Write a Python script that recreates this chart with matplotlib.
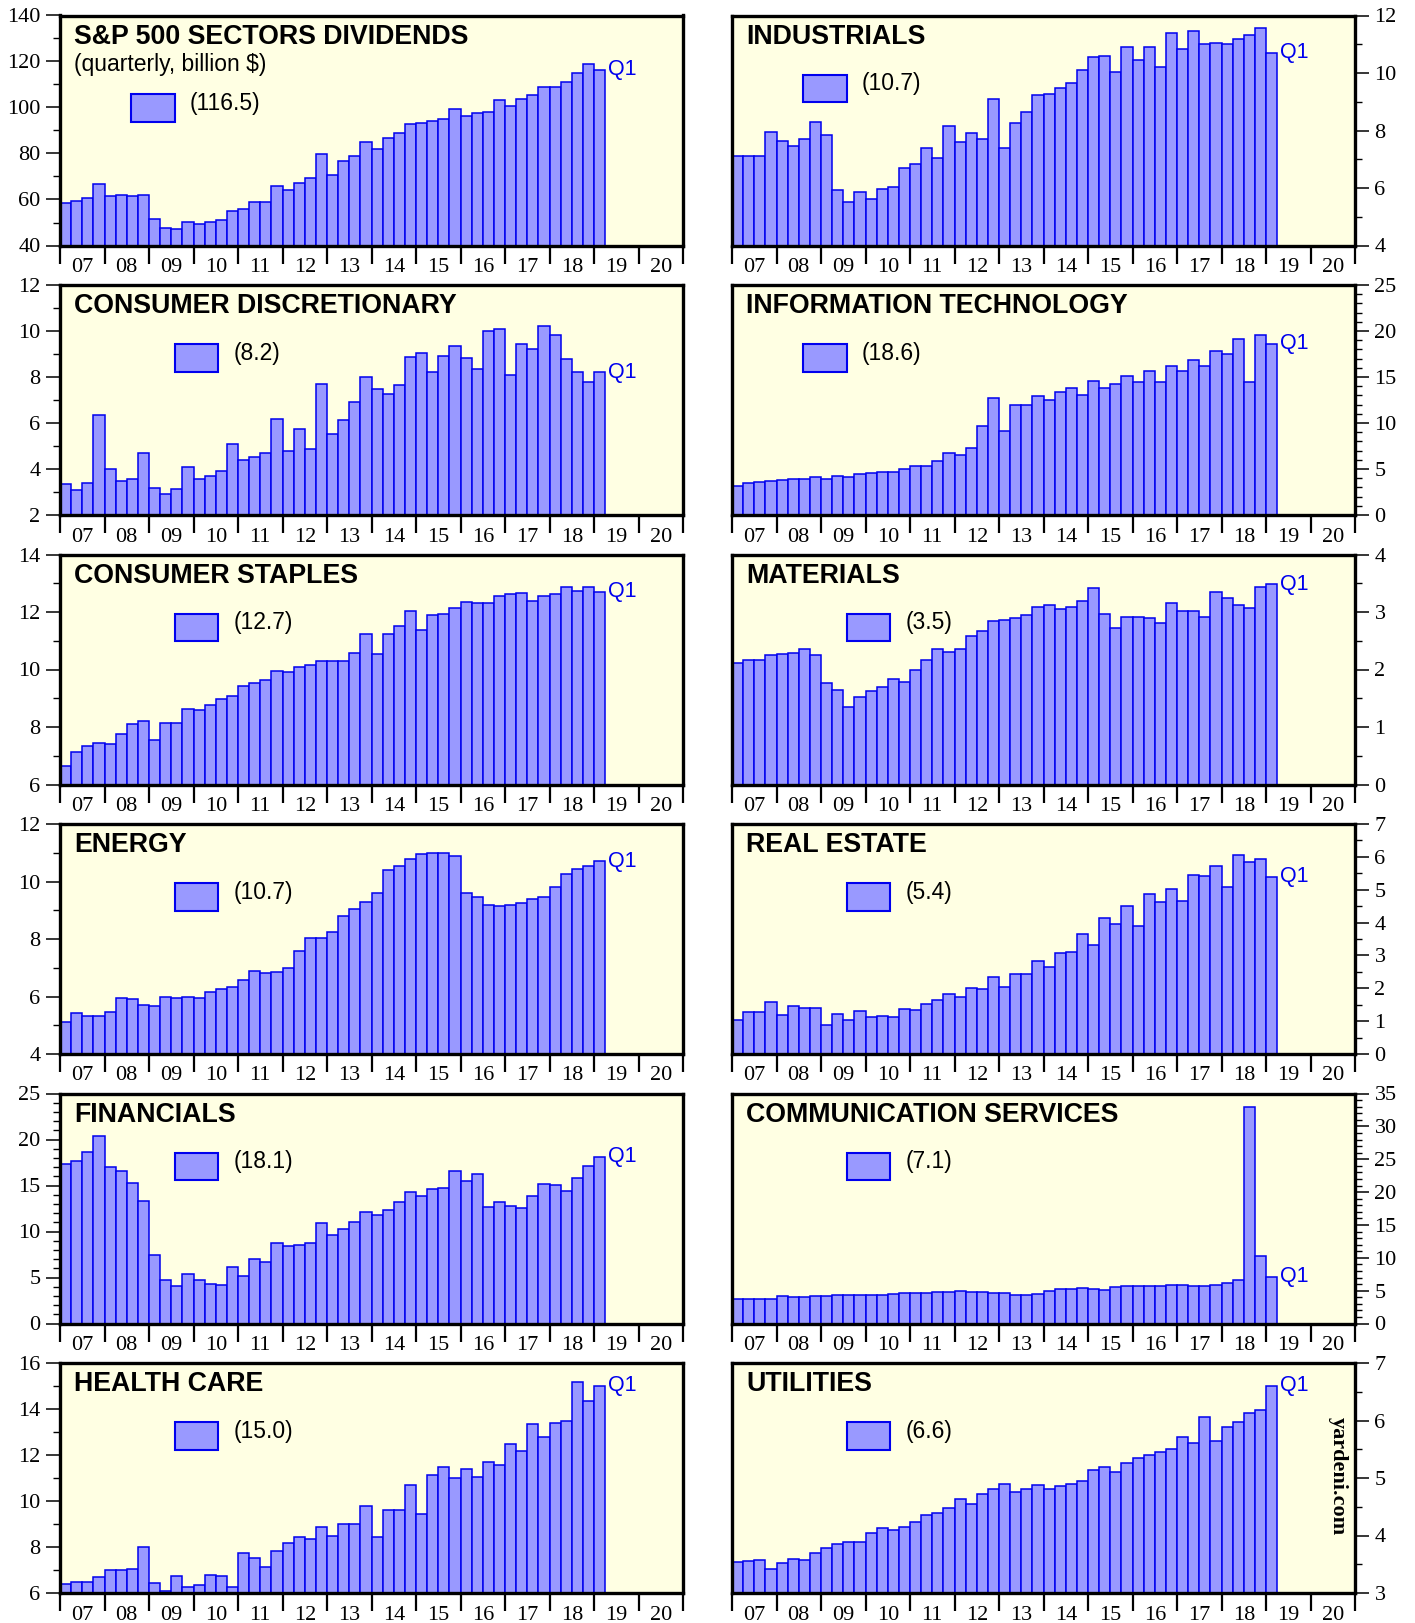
import numpy as np
import pandas as pd
import matplotlib
matplotlib.use('Agg')
import matplotlib.pyplot as plt
from matplotlib.patches import Rectangle
from matplotlib.ticker import MultipleLocator, FixedLocator, NullFormatter, FixedFormatter

plt.rcParams['font.family'] = 'Liberation Serif'

# ─── data (quarterly, billion $) ─────────────────────────────────────────
quarters = pd.period_range('2007Q1', '2019Q1', freq='Q')
years = list(range(2007, 2021))
year_labels = [f'{y % 100:02d}' for y in years]

sp500 = [58.4, 59.5, 60.8, 66.9, 61.7, 62.1, 61.4, 62.1, 51.7, 47.8, 47.2, 50.4,
         49.4, 50.4, 51.3, 54.9, 56.0, 59.1, 59.1, 66.0, 64.0, 67.3, 69.5, 79.9,
         70.8, 76.7, 79.0, 84.8, 81.9, 86.7, 89.0, 92.7, 93.3, 94.3, 94.9, 99.4,
         96.2, 97.7, 98.1, 103.4, 100.7, 103.7, 105.3, 108.9, 108.9, 111.1, 115.1, 118.9,
         116.5]
industrials = [7.13, 7.10, 7.13, 7.94, 7.65, 7.47, 7.72, 8.30, 7.85, 5.93, 5.51, 5.86,
               5.63, 5.97, 6.05, 6.69, 6.84, 7.40, 7.04, 8.16, 7.60, 7.92, 7.69, 9.10,
               7.39, 8.25, 8.65, 9.24, 9.27, 9.49, 9.65, 10.10, 10.55, 10.59, 10.05, 10.89,
               10.45, 10.90, 10.21, 11.39, 10.84, 11.46, 11.02, 11.04, 11.02, 11.20, 11.33, 11.55,
               10.7]
cons_disc = [3.35, 3.09, 3.41, 6.36, 4.01, 3.49, 3.57, 4.71, 3.19, 2.93, 3.14, 4.09,
             3.57, 3.70, 3.90, 5.07, 4.38, 4.52, 4.68, 6.19, 4.78, 5.74, 4.88, 7.70,
             5.51, 6.14, 6.93, 8.01, 7.46, 7.28, 7.65, 8.87, 9.04, 8.22, 8.91, 9.35,
             8.83, 8.33, 9.99, 10.10, 8.07, 9.45, 9.22, 10.23, 9.83, 8.77, 8.23, 7.77,
             8.2]
info_tech = [3.19, 3.51, 3.55, 3.66, 3.77, 3.91, 3.95, 4.17, 3.95, 4.24, 4.17, 4.42,
             4.53, 4.71, 4.71, 4.96, 5.33, 5.29, 5.83, 6.78, 6.49, 7.28, 9.71, 12.72,
             9.17, 11.92, 11.99, 12.97, 12.46, 13.37, 13.84, 13.08, 14.60, 13.77, 14.28, 15.07,
             14.49, 15.69, 14.49, 16.23, 15.65, 16.88, 16.23, 17.79, 17.50, 19.13, 14.49, 19.60,
             18.6]
cons_staples = [6.65, 7.14, 7.35, 7.45, 7.41, 7.74, 8.12, 8.21, 7.56, 8.15, 8.13, 8.64,
                8.59, 8.78, 8.99, 9.07, 9.41, 9.53, 9.63, 9.95, 9.92, 10.08, 10.15, 10.28,
                10.31, 10.31, 10.56, 11.22, 10.53, 11.23, 11.50, 12.02, 11.36, 11.88, 11.92, 12.15,
                12.34, 12.30, 12.30, 12.55, 12.62, 12.65, 12.38, 12.55, 12.62, 12.86, 12.72, 12.86,
                12.7]
materials = [2.12, 2.17, 2.17, 2.25, 2.27, 2.28, 2.35, 2.25, 1.77, 1.65, 1.35, 1.53,
             1.62, 1.69, 1.83, 1.79, 2.00, 2.17, 2.35, 2.31, 2.35, 2.59, 2.67, 2.85,
             2.86, 2.90, 2.94, 3.08, 3.13, 3.06, 3.08, 3.19, 3.42, 2.97, 2.73, 2.92,
             2.92, 2.89, 2.81, 3.15, 3.01, 3.01, 2.92, 3.34, 3.24, 3.12, 3.07, 3.43,
             3.48]
energy = [5.13, 5.43, 5.32, 5.32, 5.46, 5.95, 5.92, 5.71, 5.66, 5.97, 5.96, 5.97,
          5.96, 6.17, 6.26, 6.33, 6.59, 6.88, 6.81, 6.85, 6.98, 7.59, 8.02, 8.05,
          8.25, 8.80, 9.03, 9.30, 9.61, 10.39, 10.54, 10.77, 10.97, 11.00, 10.98, 10.89,
          9.61, 9.47, 9.19, 9.16, 9.19, 9.26, 9.39, 9.46, 9.80, 10.27, 10.43, 10.55,
          10.7]
real_estate = [1.04, 1.27, 1.28, 1.58, 1.19, 1.46, 1.39, 1.41, 0.88, 1.21, 1.04, 1.31,
               1.12, 1.16, 1.12, 1.37, 1.34, 1.52, 1.65, 1.83, 1.74, 2.01, 1.97, 2.35,
               2.04, 2.43, 2.43, 2.82, 2.65, 3.08, 3.10, 3.65, 3.31, 4.14, 3.97, 4.51,
               3.90, 4.86, 4.64, 5.02, 4.65, 5.45, 5.42, 5.71, 5.08, 6.05, 5.83, 5.93,
               5.4]
financials = [17.31, 17.67, 18.65, 20.39, 17.02, 16.58, 15.24, 13.32, 7.44, 4.68, 4.10, 5.37,
              4.68, 4.28, 4.17, 6.17, 5.19, 6.97, 6.68, 8.74, 8.42, 8.49, 8.71, 10.92,
              9.62, 10.30, 11.07, 12.08, 11.79, 12.34, 13.21, 14.26, 13.90, 14.66, 14.73, 16.55,
              15.49, 16.29, 12.66, 13.24, 12.77, 12.52, 13.86, 15.13, 15.02, 14.40, 15.78, 17.09,
              18.1]
comm_services = [3.8, 3.8, 3.8, 3.8, 4.2, 4.0, 4.1, 4.2, 4.2, 4.3, 4.3, 4.4,
                 4.4, 4.4, 4.5, 4.6, 4.6, 4.7, 4.8, 4.8, 5.0, 4.8, 4.8, 4.7,
                 4.6, 4.4, 4.3, 4.5, 4.9, 5.2, 5.2, 5.4, 5.3, 5.1, 5.5, 5.7,
                 5.7, 5.7, 5.7, 5.8, 5.8, 5.7, 5.7, 5.9, 6.1, 6.6, 32.9, 10.2,
                 7.1]
health_care = [6.39, 6.50, 6.46, 6.68, 6.99, 6.98, 7.05, 8.00, 6.42, 6.09, 6.73, 6.27,
               6.36, 6.78, 6.75, 6.26, 7.74, 7.51, 7.12, 7.84, 8.19, 8.42, 8.35, 8.85,
               8.46, 8.98, 9.01, 9.80, 8.44, 9.63, 9.62, 10.68, 9.42, 11.12, 11.50, 11.01,
               11.39, 11.03, 11.68, 11.58, 12.46, 12.17, 13.36, 12.80, 13.41, 13.48, 15.16, 14.36,
               15.0]
utilities = [3.54, 3.56, 3.57, 3.42, 3.53, 3.60, 3.58, 3.70, 3.79, 3.86, 3.88, 3.89,
             4.04, 4.13, 4.09, 4.14, 4.23, 4.36, 4.39, 4.48, 4.63, 4.55, 4.73, 4.81,
             4.89, 4.76, 4.81, 4.88, 4.81, 4.86, 4.89, 4.95, 5.14, 5.20, 5.10, 5.26,
             5.34, 5.40, 5.46, 5.51, 5.71, 5.61, 6.06, 5.65, 5.89, 5.97, 6.13, 6.18,
             6.6]

# title, values, ymin, ymax, major step, minor step, legend label
panels = [
    ('S&P 500 SECTORS DIVIDENDS', sp500, 40, 140, 20, 10, '(116.5)'),
    ('INDUSTRIALS', industrials, 4, 12, 2, 1, '(10.7)'),
    ('CONSUMER DISCRETIONARY', cons_disc, 2, 12, 2, 1, '(8.2)'),
    ('INFORMATION TECHNOLOGY', info_tech, 0, 25, 5, 1, '(18.6)'),
    ('CONSUMER STAPLES', cons_staples, 6, 14, 2, 1, '(12.7)'),
    ('MATERIALS', materials, 0, 4, 1, 0.5, '(3.5)'),
    ('ENERGY', energy, 4, 12, 2, 1, '(10.7)'),
    ('REAL ESTATE', real_estate, 0, 7, 1, 0.5, '(5.4)'),
    ('FINANCIALS', financials, 0, 25, 5, 1, '(18.1)'),
    ('COMMUNICATION SERVICES', comm_services, 0, 35, 5, 1, '(7.1)'),
    ('HEALTH CARE', health_care, 6, 16, 2, 1, '(15.0)'),
    ('UTILITIES', utilities, 3, 7, 1, 0.5, '(6.6)'),
]

bar_face = '#9999FF'
bar_edge = '#0000EE'
panel_bg = '#FFFFE3'
sans = 'Liberation Sans'

x = np.array([q.year + (q.quarter - 1) / 4 for q in quarters])

W, H = 1415, 1623
fig = plt.figure(figsize=(W / 100, H / 100), dpi=100)

left_x = [60, 732]
ax_w = 623
ax_h = 230
row_top0 = 15.5
row_step = 269.5

for i, (title, vals, ymin, ymax, major, minor, leg) in enumerate(panels):
    row, col = divmod(i, 2)
    top = row_top0 + row * row_step
    ax = fig.add_axes([left_x[col] / W, 1 - (top + ax_h) / H, ax_w / W, ax_h / H])
    ax.set_facecolor(panel_bg)

    ax.bar(x, vals, width=0.25, align='edge', color=bar_face,
           edgecolor=bar_edge, linewidth=1.1, zorder=2)

    ax.set_xlim(2007, 2021)
    ax.set_ylim(ymin, ymax)

    for s in ax.spines.values():
        s.set_linewidth(2.4)
        s.set_zorder(5)

    # x axis: long ticks at year boundaries, labels mid-year
    ax.xaxis.set_major_locator(FixedLocator(years + [2021]))
    ax.xaxis.set_major_formatter(NullFormatter())
    ax.xaxis.set_minor_locator(FixedLocator([y + 0.5 for y in years]))
    ax.xaxis.set_minor_formatter(FixedFormatter(year_labels))
    ax.tick_params(axis='x', which='major', length=13, width=1.6, direction='out')
    ax.tick_params(axis='x', which='minor', length=0, pad=9, labelsize=16)

    # y axis
    ax.yaxis.set_major_locator(MultipleLocator(major))
    ax.yaxis.set_minor_locator(MultipleLocator(minor))
    ax.tick_params(axis='y', which='major', length=10, width=1.1, direction='out',
                   labelsize=16, pad=4)
    ax.tick_params(axis='y', which='minor', length=5, width=1.0, direction='out')
    if col == 1:
        ax.yaxis.tick_right()

    # title and legend box
    ax.text(0.023, 0.965, title, transform=ax.transAxes, family=sans,
            fontweight='bold', fontsize=19.3, va='top', ha='left', zorder=6)
    if i == 0:
        ax.text(0.023, 0.785, '(quarterly, billion $)', transform=ax.transAxes,
                family=sans, fontsize=16.5, va='center', ha='left', zorder=6)
        px, py = 0.1146, 0.536
    elif i == 1 or i == 3:
        px, py = 0.1146, 0.622
    else:
        px, py = 0.184, 0.622
    ax.add_patch(Rectangle((px, py), 0.0698, 0.121, transform=ax.transAxes,
                           facecolor=bar_face, edgecolor=bar_edge, linewidth=1.5,
                           zorder=6))
    ax.text(px + 0.094, py + 0.082, leg, transform=ax.transAxes, family=sans,
            fontsize=16.5, va='center', ha='left', zorder=6)

    # Q1 marker at last bar
    ax.annotate('Q1', xy=(x[-1] + 0.25, vals[-1]), xytext=(2, 0),
                textcoords='offset points', color='#0000EE', family=sans,
                fontsize=15.5, va='center', ha='left', zorder=6)

    if i == len(panels) - 1:
        ax.text(0.972, 0.51, 'yardeni.com', transform=ax.transAxes, rotation=-90,
                fontweight='bold', fontsize=16, va='center', ha='center', zorder=6)

plt.savefig('out.png', dpi=100)
